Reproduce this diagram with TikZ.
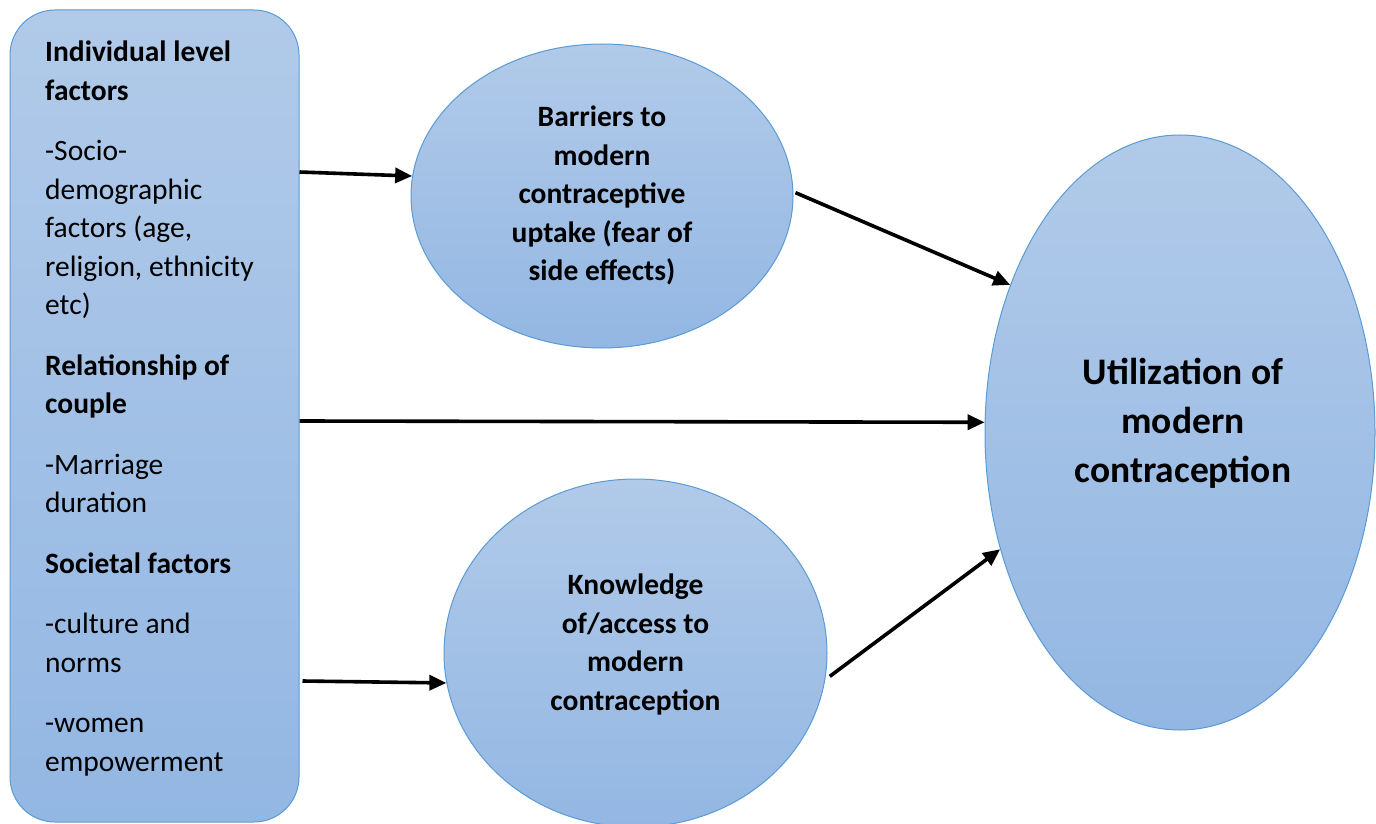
\documentclass[tikz,border=0pt]{standalone}
\usepackage{fontspec}
\setmainfont{Carlito}
\usetikzlibrary{shapes.geometric,arrows.meta}
\definecolor{fillTop}{HTML}{B1CAE9}
\definecolor{fillBot}{HTML}{93B7E3}
\definecolor{edgeBlue}{HTML}{5B9BD5}
\tikzset{
  shapebase/.style={draw=edgeBlue, line width=1pt, top color=fillTop, bottom color=fillBot, inner sep=0pt},
  ellbox/.style={shapebase, ellipse},
  factorbox/.style={shapebase, rectangle, rounded corners=45pt},
  btext/.style={font=\fontsize{29.5}{38.5}\selectfont\bfseries, align=center, inner sep=0pt},
  bigtext/.style={font=\fontsize{37.5}{49}\selectfont\bfseries, align=center, inner sep=0pt},
  ltext/.style={font=\fontsize{29.5}{38.5}\selectfont, align=left, inner sep=0pt, anchor=north west},
  arr/.style={line width=3.6pt, -{Triangle[length=17pt,width=15pt]}},
}
\begin{document}
\begin{tikzpicture}[x=1pt,y=-1pt]
\useasboundingbox (0,0) rectangle (1376,824);
\node[factorbox, minimum width=289pt, minimum height=812pt] (box) at (154.5,416) {};
\node[ellbox, minimum width=382pt, minimum height=304pt] (b1) at (602,196) {};
\node[ellbox, minimum width=383pt, minimum height=348pt] (k1) at (635.5,653) {};
\node[ellbox, minimum width=390pt, minimum height=595pt] (u1) at (1180,432.5) {};
\node[ltext] (lt) at (45,41) {\textbf{Individual level}\\\textbf{factors}\\[22pt]
-Socio-\\demographic\\factors (age,\\religion, ethnicity\\etc)\\[22pt]
\textbf{Relationship of}\\\textbf{couple}\\[22pt]
-Marriage\\duration\\[22pt]
\textbf{Societal factors}\\[22pt]
-culture and\\norms\\[22pt]
-women\\empowerment};
\node[btext] (bt) at (602,195.5) {Barriers to\\modern\\contraceptive\\uptake (fear of\\side effects)};
\node[btext] (kt) at (635.5,644.5) {Knowledge\\of/access to\\modern\\contraception};
\node[bigtext] (ut) at (1183,423) {Utilization of\\modern\\contraception};
\draw[arr] (box.east |- 0,172) -- (b1.174);
\draw[arr] (box.east |- 0,421) -- (u1.177.5);
\draw[arr] ([xshift=3pt]box.east |- 0,681) -- (k1.189);
\draw[arr] ([xshift=2pt]b1.1) -- (u1.139);
\draw[arr] ([xshift=4pt]k1.353) -- (u1.213);
\end{tikzpicture}
\end{document}
